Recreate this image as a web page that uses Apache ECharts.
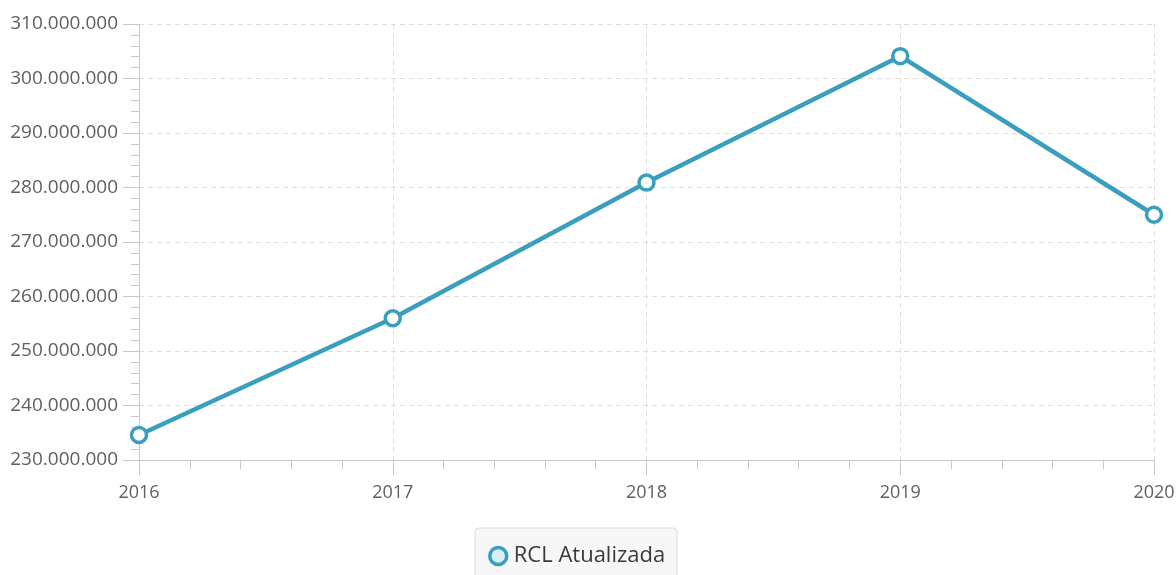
<!DOCTYPE html>
<html>
<head>
<meta charset="utf-8">
<script src="https://cdn.jsdelivr.net/npm/echarts@6/dist/echarts.min.js"></script>
<style>
  html, body { margin: 0; padding: 0; background: #fff; }
  #chart { width: 1176px; height: 575px; }
</style>
</head>
<body>
<div id="chart"></div>
<script>
// RCL atualizada por ano
const years = [2016, 2017, 2018, 2019, 2020];
const rclAtualizada = [234600000, 256000000, 280900000, 304100000, 275000000];
const seriesName = 'RCL Atualizada';

const lineColor = '#3a9ebf';
const axisColor = '#c8c8c8';
const gridColor = '#dedede';
const font = '"Open Sans", "Noto Sans", sans-serif';

function fmtThousands(v) {
  return String(Math.round(v)).replace(/\B(?=(\d{3})+(?!\d))/g, '.');
}

const chart = echarts.init(document.getElementById('chart'), null, { renderer: 'canvas' });

chart.setOption({
  animation: false,
  backgroundColor: '#ffffff',
  grid: {
    left: 139, right: 22, top: 24, bottom: 115,
    containLabel: false,
    outerBoundsMode: 'none'
  },
  xAxis: {
    type: 'value',
    min: 2016, max: 2020, interval: 1,
    axisLine: { show: true, lineStyle: { color: axisColor, width: 1 } },
    axisTick: { show: true, length: 15, lineStyle: { color: axisColor } },
    minorTick: { show: true, splitNumber: 5, length: 9, lineStyle: { color: axisColor } },
    splitLine: { show: true, lineStyle: { color: gridColor, type: [5, 4] } },
    axisLabel: {
      margin: 24,
      color: '#606060',
      fontFamily: font,
      fontSize: 18,
      formatter: v => String(v)
    }
  },
  yAxis: {
    type: 'value',
    min: 230000000, max: 310000000, interval: 10000000,
    axisLine: { show: true, lineStyle: { color: axisColor, width: 1 } },
    axisTick: { show: true, length: 16, lineStyle: { color: axisColor } },
    minorTick: { show: true, splitNumber: 5, length: 8, lineStyle: { color: axisColor } },
    splitLine: { show: true, lineStyle: { color: gridColor, type: [5, 4] } },
    axisLabel: {
      margin: 21,
      color: '#606060',
      fontFamily: font,
      fontSize: 19,
      formatter: v => fmtThousands(v)
    }
  },
  legend: {
    data: [{
      name: seriesName,
      icon: 'circle',
      itemStyle: { color: '#d8f0f7', borderColor: lineColor, borderWidth: 3.5 }
    }],
    left: 475,
    top: 528,
    padding: [17, 12, 17, 13],
    itemWidth: 17,
    itemHeight: 17,
    itemGap: 10,
    backgroundColor: '#f7f7f7',
    borderColor: '#dcdcdc',
    borderWidth: 1,
    borderRadius: 4,
    textStyle: {
      color: '#3a3a3a',
      fontFamily: font,
      fontSize: 22,
      padding: [0, 0, 0, 2]
    }
  },
  series: [{
    name: seriesName,
    type: 'line',
    data: years.map((y, i) => [y, rclAtualizada[i]]),
    clip: true,
    symbol: 'circle',
    symbolSize: 15,
    showAllSymbol: true,
    lineStyle: { color: lineColor, width: 4.5 },
    itemStyle: { color: '#ffffff', borderColor: lineColor, borderWidth: 3.5 },
    emphasis: { disabled: true }
  }]
});
</script>
</body>
</html>
